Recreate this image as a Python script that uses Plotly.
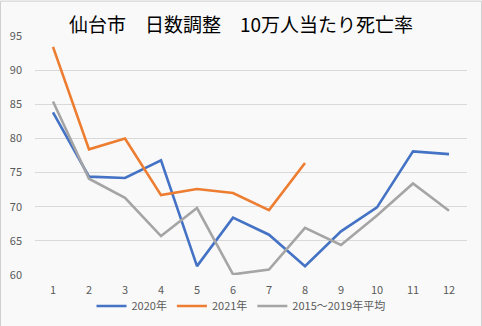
import plotly.graph_objects as go

# Months and mortality per 100k population (day-count adjusted)
months = [1, 2, 3, 4, 5, 6, 7, 8, 9, 10, 11, 12]
rate_2020 = [83.8, 74.4, 74.2, 76.8, 61.3, 68.4, 65.9, 61.3, 66.4, 69.9, 78.1, 77.7]
rate_2021 = [93.4, 78.4, 80.0, 71.7, 72.6, 72.0, 69.5, 76.4]
rate_avg = [85.4, 74.1, 71.3, 65.7, 69.8, 60.1, 60.8, 66.9, 64.4, 68.7, 73.4, 69.4]
y_ticks = [60, 65, 70, 75, 80, 85, 90, 95]

series = [
    ("2020年", rate_2020, "#4472C4"),
    ("2021年", rate_2021, "#ED7D31"),
    ("2015～2019年平均", rate_avg, "#A5A5A5"),
]

FONT = "Noto Sans CJK JP"
BG = "#F9F9F9"
W, H = 482, 326
L, R, T, B = 35, 15, 35.5, 50.5

fig = go.Figure()
for name, vals, color in series:
    fig.add_trace(go.Scatter(
        x=months[:len(vals)], y=vals, name=name, mode="lines",
        line=dict(color=color, width=2.6),
    ))

pw, ph = W - L - R, H - T - B
# thin frame around the whole chart area
fig.add_shape(
    type="rect", xref="paper", yref="paper",
    x0=(0.5 - L) / pw, x1=(W - 0.5 - L) / pw,
    y0=(B - H + 0.5) / ph, y1=(H - 0.5 - B) / ph,
    line=dict(color="#D0D0D0", width=1), layer="below",
)

fig.update_layout(
    width=W, height=H,
    margin=dict(l=L, r=R, t=T, b=B, pad=0, autoexpand=False),
    paper_bgcolor=BG, plot_bgcolor=BG,
    title=dict(
        text="仙台市　日数調整　10万人当たり死亡率",
        x=0.5, xref="container", xanchor="center",
        y=1 - 25 / H, yref="container", yanchor="middle",
        font=dict(family=FONT, size=19, color="#000000"),
    ),
    showlegend=True,
    legend=dict(
        orientation="h", x=0.5, xref="container", xanchor="center",
        y=20 / H, yref="container", yanchor="middle",
        font=dict(family=FONT, size=11, color="#595959"),
        bgcolor="rgba(0,0,0,0)", tracegroupgap=0,
    ),
    font=dict(family=FONT, size=11, color="#595959"),
)

fig.update_xaxes(
    range=[0.5, 12.5], tickmode="array", tickvals=months,
    ticktext=[str(m) for m in months],
    showgrid=False, zeroline=False, showline=False, ticks="",
    ticklabelstandoff=7,
    tickfont=dict(family=FONT, size=11, color="#595959"),
)
fig.update_yaxes(
    range=[60, 95], tickmode="array", tickvals=y_ticks,
    ticktext=[str(v) for v in y_ticks],
    showgrid=True, gridcolor="#D9D9D9", gridwidth=1,
    zeroline=False, showline=False, ticks="",
    ticklabelstandoff=12,
    tickfont=dict(family=FONT, size=11, color="#595959"),
)

fig.write_html("out.html")
